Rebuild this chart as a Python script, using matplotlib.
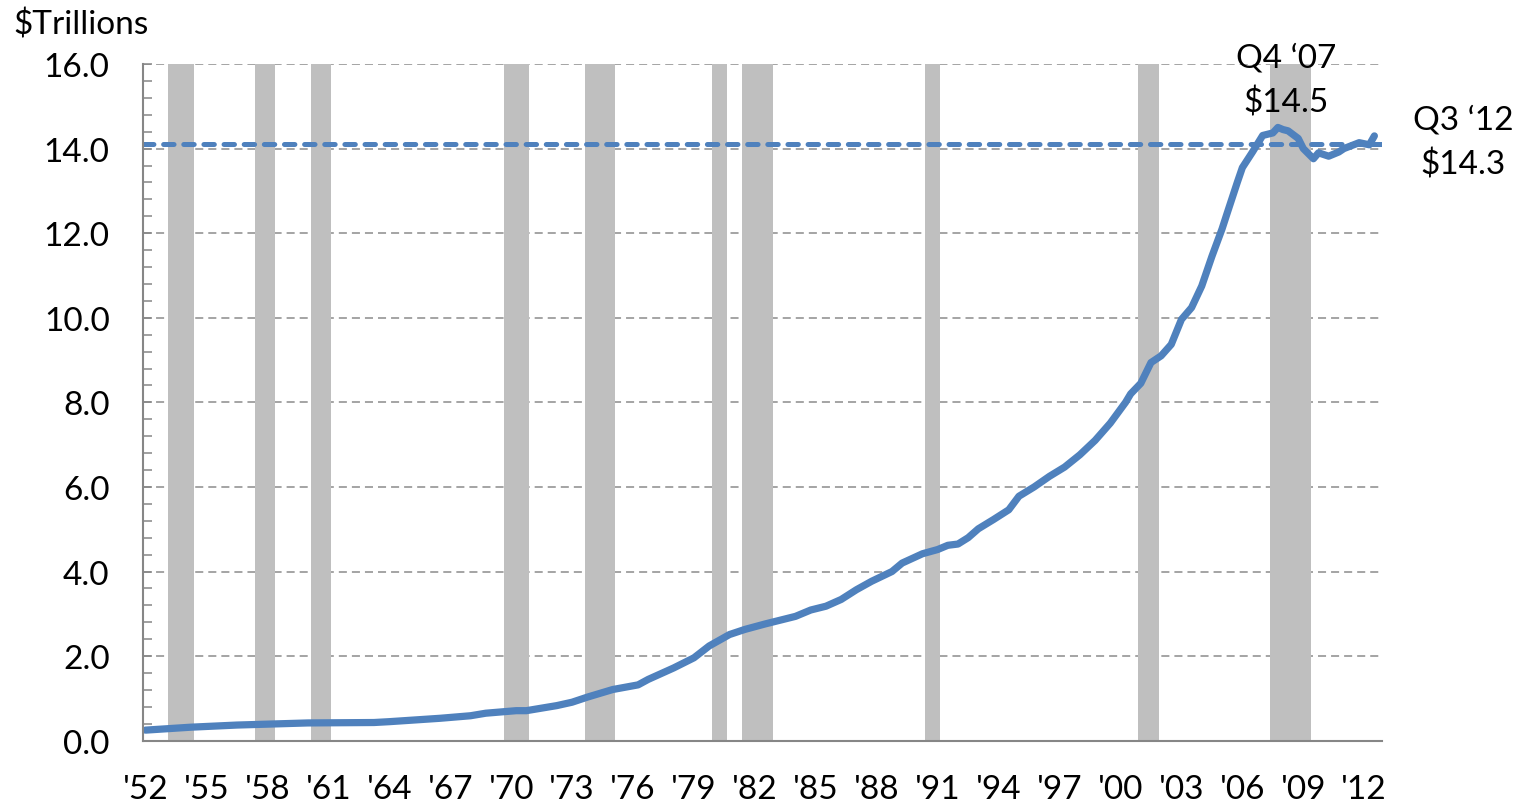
import matplotlib
matplotlib.use("Agg")
import matplotlib.pyplot as plt
from matplotlib.ticker import MultipleLocator, FixedLocator

plt.rcParams["font.family"] = ["Lato", "DejaVu Sans"]
plt.rcParams["lines.scale_dashes"] = False

# Household debt, $ trillions, read at selected quarters
quarters = [
    "1952Q1", "1954Q2", "1956Q3", "1960Q1", "1963Q2", "1964Q1", "1966Q3",
    "1968Q1", "1968Q4", "1970Q2", "1970Q4", "1972Q2", "1973Q1", "1973Q4",
    "1975Q1", "1976Q2", "1976Q4", "1978Q1", "1979Q1", "1979Q4", "1980Q4",
    "1981Q3", "1982Q3", "1983Q2", "1984Q1", "1984Q4", "1985Q3", "1986Q2",
    "1987Q1", "1987Q4", "1988Q4", "1989Q2", "1990Q2", "1991Q1", "1991Q3",
    "1992Q1", "1992Q3", "1993Q1", "1993Q4", "1994Q3", "1995Q1", "1995Q4",
    "1996Q3", "1997Q2", "1998Q1", "1998Q4", "1999Q3", "2000Q2", "2000Q3",
    "2001Q1", "2001Q3", "2002Q1", "2002Q3", "2003Q1", "2003Q3", "2004Q1",
    "2004Q3", "2005Q1", "2005Q2", "2005Q4", "2006Q1", "2006Q3", "2007Q1",
    "2007Q3", "2007Q4", "2008Q1", "2008Q2", "2008Q4", "2009Q1", "2009Q3",
    "2009Q4", "2010Q2", "2010Q4", "2011Q1", "2011Q4", "2012Q2", "2012Q3",
]
debt = [
    0.25, 0.32, 0.37, 0.42, 0.43, 0.45, 0.53,
    0.59, 0.65, 0.71, 0.71, 0.83, 0.91, 1.03,
    1.21, 1.32, 1.45, 1.72, 1.96, 2.24, 2.51,
    2.63, 2.76, 2.85, 2.94, 3.09, 3.18, 3.34,
    3.57, 3.77, 4.00, 4.20, 4.42, 4.52, 4.62,
    4.65, 4.80, 5.01, 5.23, 5.46, 5.78, 6.00,
    6.25, 6.47, 6.76, 7.10, 7.51, 8.00, 8.20,
    8.45, 8.94, 9.10, 9.37, 9.96, 10.24, 10.75,
    11.45, 12.10, 12.47, 13.20, 13.55, 13.92, 14.31,
    14.37, 14.50, 14.45, 14.42, 14.24, 14.00, 13.76,
    13.90, 13.82, 13.92, 14.00, 14.14, 14.09, 14.30,
]

# NBER recessions (first and last quarter shaded)
recessions = [
    ("1953Q2", "1954Q2"), ("1957Q3", "1958Q2"), ("1960Q2", "1961Q1"),
    ("1969Q4", "1970Q4"), ("1973Q4", "1975Q1"), ("1980Q1", "1980Q3"),
    ("1981Q3", "1982Q4"), ("1990Q3", "1991Q1"), ("2001Q1", "2001Q4"),
    ("2007Q3", "2009Q2"),
]

reference_level = 14.1
tick_years = list(range(1952, 2013, 3))
tick_labels = ["'%02d" % (y % 100) for y in tick_years]

peak_label = "Q4 \u201807\n$14.5"
latest_label = "Q3 \u201812\n$14.3"


def qidx(q):
    return (int(q[:4]) - 1952) * 4 + int(q[-1]) - 1


x = [qidx(q) for q in quarters]

fig = plt.figure(figsize=(15.28, 8.04), dpi=100)
ax = fig.add_axes([143 / 1528, 62.3 / 804, 1239 / 1528, 676.7 / 804])

grey = "#868686"
blue = "#4F81BD"
fs = 24

for start, end in recessions:
    ax.axvspan(qidx(start) - 0.5, qidx(end) + 0.5, ymin=0, ymax=1,
               color="#BFBFBF", lw=0, zorder=2)

ax.axhline(reference_level, color=blue, lw=3.6, linestyle=(0, (7.5, 7.0)),
           dash_capstyle="round", zorder=3)
ax.plot(x, debt, color=blue, lw=5.2, solid_joinstyle="round",
        solid_capstyle="round", zorder=4)

ax.set_xlim(-0.5, 243.5)
ax.set_ylim(0, 16)

ax.yaxis.set_major_locator(MultipleLocator(2))
ax.yaxis.set_minor_locator(MultipleLocator(0.4))
ax.set_yticklabels([f"{v:.1f}" for v in ax.get_yticks()])
ax.yaxis.grid(True, which="major", color="#8C8C8C", lw=1.1,
              linestyle=(0, (5.8, 3.6)), zorder=1)
ax.set_axisbelow(True)

ax.xaxis.set_major_locator(FixedLocator([qidx(f"{y}Q1") for y in tick_years]))
ax.set_xticklabels(tick_labels)

ax.tick_params(axis="y", which="both", direction="in", length=6.5,
               width=1.1, color=grey, labelsize=fs, pad=24)
ax.tick_params(axis="x", length=0, labelsize=fs, pad=24)

for side in ("top", "right"):
    ax.spines[side].set_visible(False)
for side in ("left", "bottom"):
    ax.spines[side].set_color(grey)
    ax.spines[side].set_linewidth(1.5)
    ax.spines[side].set_zorder(5)

fig.text(13 / 1528, 1 - 35 / 804, "$Trillions", fontsize=fs,
         ha="left", va="baseline")

ax.text(224.6, 15.62, peak_label, fontsize=fs, ha="center", va="center",
        linespacing=1.55, zorder=6)
ax.text(259.5, 14.15, latest_label, fontsize=fs, ha="center", va="center",
        linespacing=1.55, clip_on=False, zorder=6)

fig.savefig("out.png", dpi=100)
